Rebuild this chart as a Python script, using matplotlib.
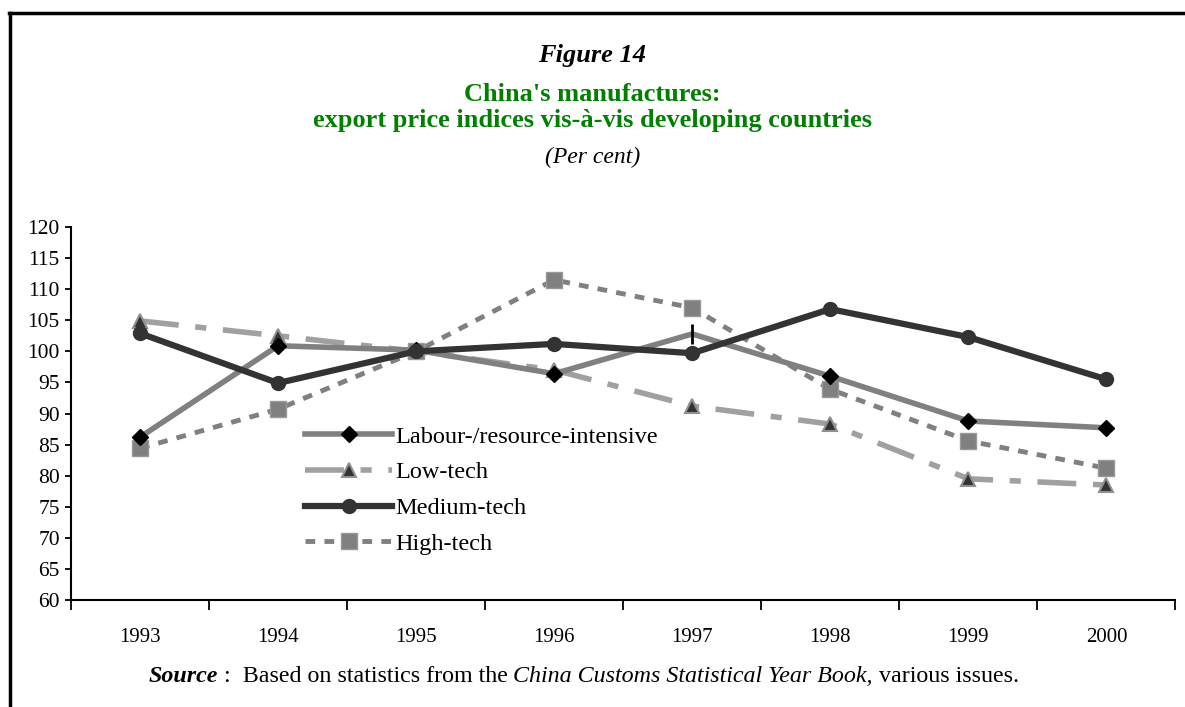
import matplotlib
matplotlib.use("Agg")
import matplotlib.pyplot as plt
from matplotlib.lines import Line2D

plt.rcParams['font.family'] = ['Liberation Serif', 'DejaVu Serif']

# data
years = ['1993', '1994', '1995', '1996', '1997', '1998', '1999', '2000']
labour = [86.2, 100.9, 100.2, 96.4, 102.8, 96.0, 88.8, 87.7]
low_tech = [104.9, 102.5, 100.0, 97.0, 91.2, 88.3, 79.5, 78.5]
medium_tech = [102.9, 94.9, 100.0, 101.2, 99.7, 106.8, 102.3, 95.5]
high_tech = [84.4, 90.7, 100.0, 111.5, 107.0, 93.9, 85.6, 81.2]
series_names = ['Labour-/resource-intensive', 'Low-tech', 'Medium-tech', 'High-tech']

fig = plt.figure(figsize=(11.85, 7.07), dpi=100)
ax = fig.add_axes([0.0599, 0.1513, 0.932, 0.5276])

x = list(range(len(years)))

low_dash = (7, 3, 2, 3)
high_dash = (2, 1.9)

# labour: the 1997 point shows only a thin vertical tick in the original
keep = [i for i in x if i != 4]
ax.plot(x, labour, color='#808080', lw=4, marker='D', ms=8, mfc='black',
        mec='black', markevery=keep, zorder=3)
ax.plot([x[4]], [labour[4]], ls='none', marker='|', ms=14, mew=2,
        color='black', zorder=4)
ax.plot(x, low_tech, color='#a0a0a0', lw=4, dashes=low_dash,
        marker='^', ms=10, mfc='#333333', mec='#909090', mew=1.5, zorder=2)
ax.plot(x, medium_tech, color='#333333', lw=4.5, marker='o', ms=10,
        mfc='#333333', mec='#333333', zorder=4)
ax.plot(x, high_tech, color='#808080', lw=3.5, dashes=high_dash,
        marker='s', ms=11, mfc='#808080', mec='#999999', zorder=2)

ax.set_xlim(-0.5, len(years) - 0.5)
ax.set_ylim(60, 120)
ax.set_yticks(range(60, 121, 5))
ax.set_xticks([i - 0.5 for i in range(len(years) + 1)])
ax.set_xticklabels([])
ax.set_xticks(x, minor=True)
ax.set_xticklabels(years, minor=True)
ax.tick_params(axis='x', which='major', length=7, width=1.3, direction='out')
ax.tick_params(axis='x', which='minor', length=0, pad=20, labelsize=15)
ax.tick_params(axis='y', length=4, width=1.3, labelsize=15.5, pad=4)
for s in ['top', 'right']:
    ax.spines[s].set_visible(False)
for s in ['left', 'bottom']:
    ax.spines[s].set_linewidth(1.5)

handles = [
    Line2D([], [], color='#808080', lw=4, marker='D', ms=8, mfc='black', mec='black'),
    Line2D([], [], color='#a0a0a0', lw=4, dashes=low_dash, marker='^', ms=10,
           mfc='#333333', mec='#909090', mew=1.5),
    Line2D([], [], color='#333333', lw=4.5, marker='o', ms=10, mfc='#333333', mec='#333333'),
    Line2D([], [], color='#808080', lw=3.5, dashes=high_dash, marker='s', ms=11,
           mfc='#808080', mec='#999999'),
]
ax.legend(handles, series_names, loc='upper left', bbox_to_anchor=(0.203, 0.493),
          frameon=False, fontsize=17.5, handlelength=3.6, handletextpad=0.1,
          labelspacing=0.56, borderaxespad=0)

# titles
fig.text(0.5, 0.922, 'Figure 14', ha='center', va='center', fontsize=19,
         fontweight='bold', style='italic')
fig.text(0.5, 0.867, "China's manufactures:", ha='center', va='center', fontsize=19,
         fontweight='bold', color='#008000')
fig.text(0.5, 0.830, 'export price indices vis-à-vis developing countries', ha='center',
         va='center', fontsize=19, fontweight='bold', color='#008000')
fig.text(0.5, 0.777, '(Per cent)', ha='center', va='center', fontsize=17, style='italic')

# source line
src_y = 0.036
fs = 17.3
t1 = fig.text(0.125, src_y, 'Source', fontsize=fs, fontweight='bold', style='italic', va='baseline')
fig.canvas.draw()
r = fig.canvas.get_renderer()
bb = t1.get_window_extent(r)
xpos = bb.x1 / fig.bbox.width
t2 = fig.text(xpos, src_y, ' :  Based on statistics from the ', fontsize=fs, va='baseline')
xpos = t2.get_window_extent(r).x1 / fig.bbox.width
t3 = fig.text(xpos, src_y, 'China Customs Statistical Year Book,', fontsize=fs,
              style='italic', va='baseline')
xpos = t3.get_window_extent(r).x1 / fig.bbox.width
fig.text(xpos, src_y, ' various issues.', fontsize=fs, va='baseline')

# frame lines (top and left only, as in the original)
fig.add_artist(Line2D([0.0076, 1.0], [0.982, 0.982], color='black', lw=2.5,
                      transform=fig.transFigure))
fig.add_artist(Line2D([0.0084, 0.0084], [0.0, 0.982], color='black', lw=2.5,
                      transform=fig.transFigure))

fig.savefig('out.png', dpi=100)
